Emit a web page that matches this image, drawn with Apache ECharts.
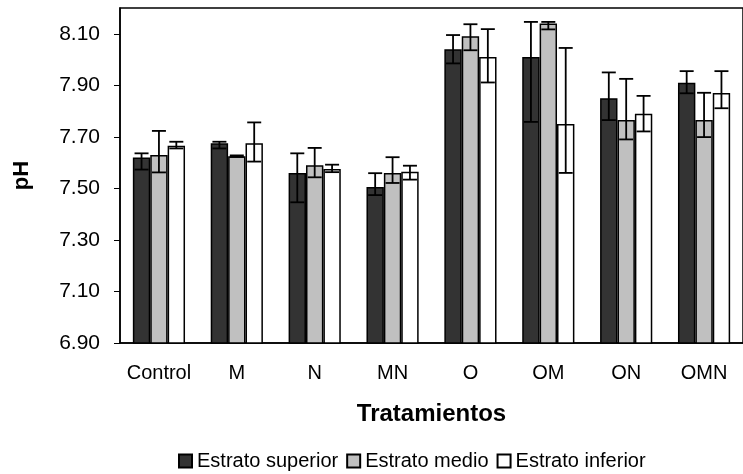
<!DOCTYPE html>
<html>
<head>
<meta charset="utf-8">
<script src="https://cdn.jsdelivr.net/npm/echarts@6/dist/echarts.min.js"></script>
<style>
  html, body { margin: 0; padding: 0; background: #fff; }
  #main { width: 743px; height: 474px; }
</style>
</head>
<body>
<div id="main"></div>
<script>
// categorias (tratamientos)
var tratamientos = ['Control', 'M', 'N', 'MN', 'O', 'OM', 'ON', 'OMN'];
var nombres = ['Estrato superior', 'Estrato medio', 'Estrato inferior'];

// pH medio por estrato
var superior = [7.62, 7.675, 7.56, 7.505, 8.04, 8.01, 7.85, 7.91];
var medio    = [7.63, 7.625, 7.59, 7.56, 8.09, 8.14, 7.765, 7.765];
var inferior = [7.665, 7.675, 7.575, 7.565, 8.01, 7.75, 7.79, 7.87];

// barras de error (arriba / abajo)
var superiorUp   = [0.016, 0.006, 0.076, 0.054, 0.055, 0.136, 0.10, 0.045];
var superiorDown = [0.047, 0.02, 0.114, 0.031, 0.055, 0.252, 0.085, 0.041];
var medioUp      = [0.093, 0.003, 0.067, 0.061, 0.047, 0.006, 0.16, 0.106];
var medioDown    = [0.068, 0.003, 0.047, 0.039, 0.054, 0.023, 0.075, 0.066];
var inferiorUp   = [0.016, 0.081, 0.017, 0.023, 0.108, 0.295, 0.069, 0.085];
var inferiorDown = [0.01, 0.071, 0.012, 0.031, 0.099, 0.19, 0.069, 0.059];

// etiquetas del eje Y
var yTicks = [6.9, 7.1, 7.3, 7.5, 7.7, 7.9, 8.1];

var colores = ['#333333', '#c0c0c0', '#ffffff'];
var fuente = 'Liberation Sans, Arial, sans-serif';

var myChart = echarts.init(document.getElementById('main'));

function barSerie(i, datos) {
    return {
        name: nombres[i],
        type: 'bar',
        data: datos,
        barGap: '0%',
        barCategoryGap: '33%',
        itemStyle: { color: colores[i], borderColor: '#000', borderWidth: 1.5 }
    };
}

// barras de error, desplazadas al centro de cada barra
function errorSerie(i, datos, up, down) {
    return {
        type: 'custom',
        z: 5,
        silent: true,
        data: datos.map(function (v, k) { return [k, v + up[k], v - down[k]]; }),
        encode: { x: 0, y: [1, 2] },
        renderItem: function (params, api) {
            var band = api.size([1, 0])[0];
            var barW = band * 0.67 / 3;
            var off = (i - 1) * barW;
            var hi = api.coord([api.value(0), api.value(1)]);
            var lo = api.coord([api.value(0), api.value(2)]);
            var x = hi[0] + off;
            var cap = 7;
            var st = { stroke: '#000', lineWidth: 1.8 };
            return {
                type: 'group',
                children: [
                    { type: 'line', shape: { x1: x, y1: hi[1], x2: x, y2: lo[1] }, style: st },
                    { type: 'line', shape: { x1: x - cap, y1: hi[1], x2: x + cap, y2: hi[1] }, style: st },
                    { type: 'line', shape: { x1: x - cap, y1: lo[1], x2: x + cap, y2: lo[1] }, style: st }
                ]
            };
        }
    };
}

var option = {
    animation: false,
    backgroundColor: '#fff',
    textStyle: { fontFamily: fuente, color: '#000' },
    grid: {
        left: 120, top: 8, right: -7, bottom: 131,
        show: true, borderColor: '#000', borderWidth: 1.5
    },
    legend: {
        data: nombres,
        left: 173,
        top: 446,
        icon: 'rect',
        itemWidth: 13,
        itemHeight: 13,
        itemGap: 8,
        textStyle: { fontFamily: fuente, fontSize: 20, color: '#000' }
    },
    xAxis: {
        type: 'category',
        data: tratamientos,
        name: 'Tratamientos',
        nameLocation: 'middle',
        nameGap: 59,
        nameTextStyle: { fontFamily: fuente, fontSize: 24, fontWeight: 'bold', color: '#000' },
        axisLine: { lineStyle: { color: '#000', width: 1.5 } },
        axisTick: { length: 6, lineStyle: { color: '#000', width: 1 } },
        axisLabel: { interval: 0, margin: 20, fontSize: 20, color: '#000', fontFamily: fuente }
    },
    yAxis: {
        type: 'value',
        min: 6.9,
        max: 8.2,
        name: 'pH',
        nameLocation: 'middle',
        nameGap: 87,
        nameTextStyle: { fontFamily: fuente, fontSize: 22, fontWeight: 'bold', color: '#000' },
        axisLine: { show: true, lineStyle: { color: '#000', width: 1.5 } },
        axisTick: { show: true, length: 6, customValues: yTicks, lineStyle: { color: '#000', width: 1 } },
        axisLabel: {
            margin: 20, fontSize: 21, color: '#000', fontFamily: fuente,
            customValues: yTicks,
            formatter: function (v) { return v.toFixed(2); }
        },
        splitLine: { show: false }
    },
    series: [
        barSerie(0, superior),
        barSerie(1, medio),
        barSerie(2, inferior),
        errorSerie(0, superior, superiorUp, superiorDown),
        errorSerie(1, medio, medioUp, medioDown),
        errorSerie(2, inferior, inferiorUp, inferiorDown)
    ]
};

myChart.setOption(option);
</script>
</body>
</html>
